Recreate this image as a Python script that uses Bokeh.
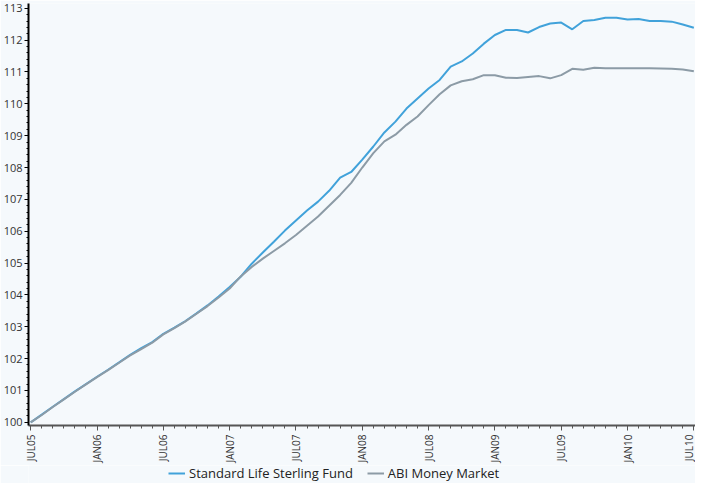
import math
from bokeh.plotting import figure
from bokeh.layouts import column
from bokeh.models import FixedTicker, Legend, LegendItem, Range1d, ColumnDataSource
from bokeh.embed import file_html
from bokeh.resources import INLINE

# monthly observations, JUL05 .. JUL10
month_index = list(range(61))
tick_positions = [0, 6, 12, 18, 24, 30, 36, 42, 48, 54, 60]
tick_labels = ["JUL05", "JAN06", "JUL06", "JAN07", "JUL07", "JAN08",
               "JUL08", "JAN09", "JUL09", "JAN10", "JUL10"]
y_ticks = list(range(100, 114))

standard_life = [
    100.00, 100.24, 100.49, 100.73, 100.97, 101.20, 101.43, 101.65, 101.88, 102.12,
    102.33, 102.52, 102.78, 102.97, 103.18, 103.42, 103.67, 103.95, 104.25, 104.57,
    104.98, 105.33, 105.67, 106.02, 106.34, 106.65, 106.93, 107.27, 107.68, 107.86,
    108.25, 108.66, 109.10, 109.44, 109.85, 110.17, 110.48, 110.75, 111.17, 111.33,
    111.58, 111.89, 112.16, 112.32, 112.32, 112.24, 112.41, 112.52, 112.55, 112.34,
    112.60, 112.63, 112.70, 112.70, 112.65, 112.66, 112.60, 112.60, 112.58, 112.49,
    112.39,
]
abi_money_market = [
    100.00, 100.23, 100.48, 100.72, 100.96, 101.19, 101.42, 101.64, 101.87, 102.10,
    102.30, 102.50, 102.76, 102.96, 103.17, 103.41, 103.65, 103.92, 104.20, 104.58,
    104.88, 105.14, 105.38, 105.62, 105.88, 106.17, 106.46, 106.80, 107.14, 107.52,
    108.00, 108.45, 108.82, 109.03, 109.34, 109.60, 109.96, 110.30, 110.58, 110.71,
    110.77, 110.90, 110.90, 110.82, 110.81, 110.84, 110.87, 110.80, 110.90, 111.10,
    111.07, 111.13, 111.12, 111.12, 111.12, 111.12, 111.12, 111.11, 111.10, 111.08,
    111.02,
]
series_names = ["Standard Life Sterling Fund", "ABI Money Market"]
series_colors = ["#41a2da", "#8c9ba6"]

BG = "#f5f9fc"
FONT = "Open Sans"

src = ColumnDataSource(dict(m=month_index, sl=standard_life, abi=abi_money_market))

p = figure(width=695, height=465, output_backend="svg", toolbar_location=None,
           x_range=Range1d(-0.2, 60.15), y_range=Range1d(99.9, 113.15),
           min_border_left=0, min_border_right=0, min_border_top=3, min_border_bottom=0)
p.background_fill_color = BG
p.border_fill_color = BG
p.outline_line_color = None
p.xgrid.visible = False
p.ygrid.visible = False

p.line("m", "sl", source=src, line_color=series_colors[0], line_width=2)
p.line("m", "abi", source=src, line_color=series_colors[1], line_width=2)

# x axis
p.xaxis.ticker = FixedTicker(ticks=tick_positions, minor_ticks=month_index)
p.xaxis.major_label_overrides = {t: l for t, l in zip(tick_positions, tick_labels)}
p.xaxis.major_label_orientation = math.pi / 2
p.xaxis.axis_line_color = "#555555"
p.xaxis.axis_line_width = 2
p.xaxis.major_tick_line_color = "#555555"
p.xaxis.minor_tick_line_color = "#555555"
p.xaxis.major_tick_in = 0
p.xaxis.major_tick_out = 5
p.xaxis.minor_tick_in = 0
p.xaxis.minor_tick_out = 3
p.xaxis.major_label_text_font = FONT
p.xaxis.major_label_text_font_size = "10px"
p.xaxis.major_label_text_color = "#333333"
p.xaxis.major_label_standoff = 4

# y axis
minor_y = [100 + 0.2 * i for i in range(66)]
p.yaxis.ticker = FixedTicker(ticks=y_ticks, minor_ticks=minor_y)
p.yaxis.axis_line_color = "#000000"
p.yaxis.axis_line_width = 2
p.yaxis.major_tick_line_color = "#000000"
p.yaxis.minor_tick_line_color = "#000000"
p.yaxis.major_tick_in = 0
p.yaxis.major_tick_out = 4
p.yaxis.minor_tick_in = 0
p.yaxis.minor_tick_out = 2
p.yaxis.major_label_text_font = FONT
p.yaxis.major_label_text_font_size = "11px"
p.yaxis.major_label_text_color = "#333333"
p.yaxis.major_label_standoff = 2

# legend strip beneath the chart (dummy renderers sit outside the visible range)
q = figure(width=695, height=18, output_backend="svg", toolbar_location=None,
           x_range=Range1d(0, 1), y_range=Range1d(0, 1),
           min_border_left=0, min_border_right=0, min_border_top=0, min_border_bottom=0)
q.background_fill_color = BG
q.border_fill_color = BG
q.outline_line_color = None
q.axis.visible = False
q.grid.visible = False
items = []
for name, color in zip(series_names, series_colors):
    r = q.line(x=[5, 6], y=[5, 6], line_color=color, line_width=2)
    items.append(LegendItem(label=name, renderers=[r]))
legend = Legend(items=items, orientation="horizontal", location=(140, 1))
legend.background_fill_alpha = 0
legend.border_line_color = None
legend.label_text_font = FONT
legend.label_text_font_size = "13px"
legend.label_text_color = "#222222"
legend.glyph_width = 17
legend.glyph_height = 16
legend.label_height = 16
legend.padding = 0
legend.margin = 0
legend.spacing = 14
legend.label_standoff = 4
q.add_layout(legend, "center")

layout = column(p, q, spacing=0)
open("out.html", "w").write(file_html(layout, INLINE))
